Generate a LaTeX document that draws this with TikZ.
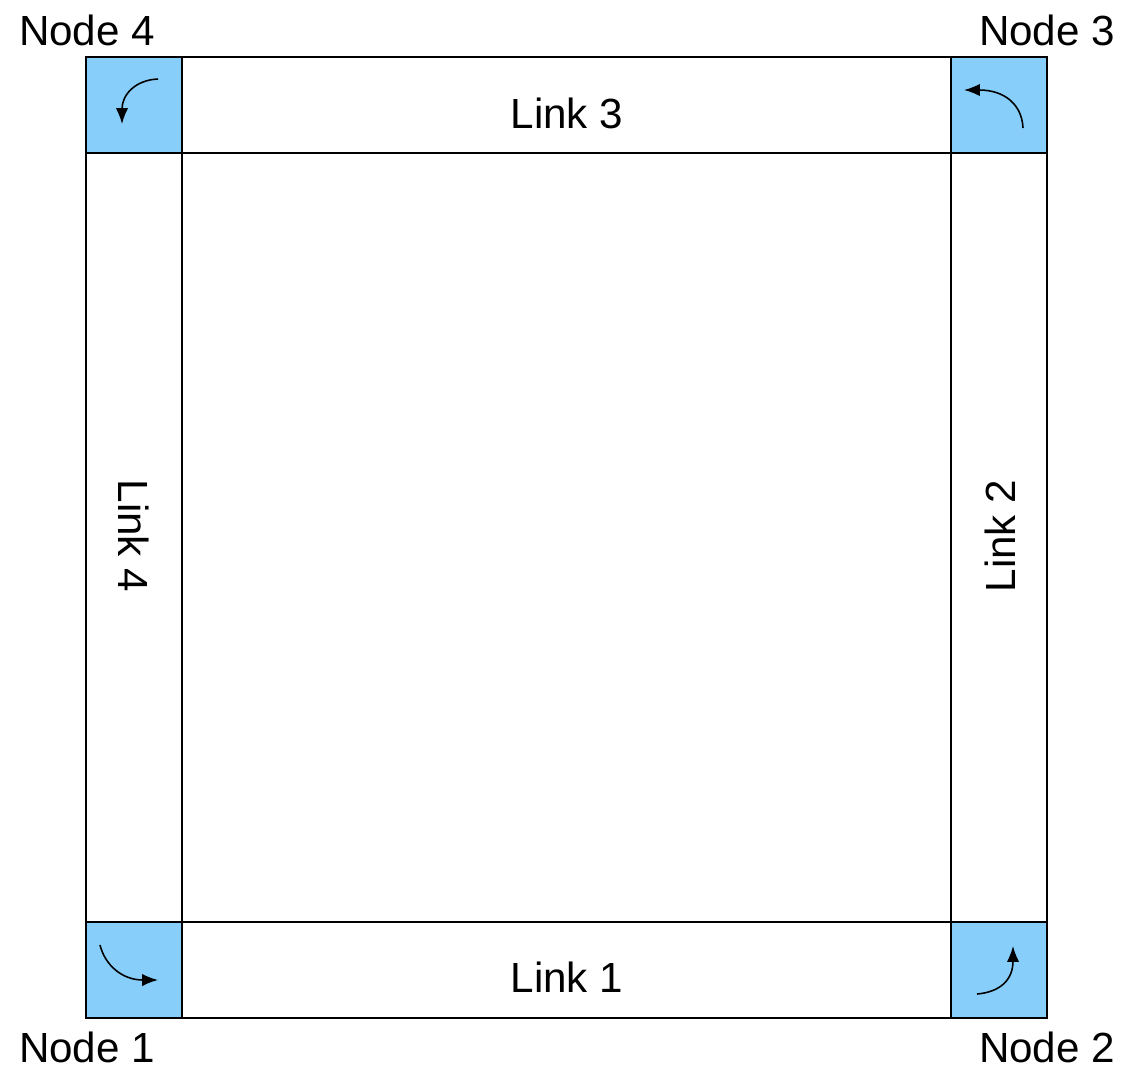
\documentclass[tikz,border=0pt]{standalone}
\usepackage{fontspec}
\setmainfont{Liberation Sans}
\usetikzlibrary{arrows.meta}
\definecolor{cellblue}{RGB}{136,206,250}
\begin{document}
\begin{tikzpicture}[x=0.02cm,y=-0.02cm,
  frame/.style={draw=black,line width=1.1pt},
  corner/.style={frame,fill=cellblue},
  lbl/.style={font=\fontsize{24pt}{28pt}\selectfont,inner sep=0pt},
  turn/.style={line width=0.9pt,-{Latex[length=9pt,width=7pt]}}]
\useasboundingbox (0,0) rectangle (1126,1069);
% links
\draw[frame] (182,57) rectangle (951,153);
\draw[frame] (182,922) rectangle (951,1018);
\draw[frame] (86,153) rectangle (182,922);
\draw[frame] (951,153) rectangle (1047,922);
% corner nodes
\draw[corner] (86,57) rectangle (182,153);
\draw[corner] (951,57) rectangle (1047,153);
\draw[corner] (86,922) rectangle (182,1018);
\draw[corner] (951,922) rectangle (1047,1018);
% rotation arrows
\draw[turn] (158,79) .. controls (135,80) and (122,95) .. (122,124);
\draw[turn] (1023,128) .. controls (1022,105) and (1005,90) .. (964,90);
\draw[turn] (100,945) .. controls (105,965) and (122,980) .. (158,980);
\draw[turn] (977,994) .. controls (1000,992) and (1013,980) .. (1013,946);
% labels
\node[lbl] (n4) at (87,30) {Node 4};
\node[lbl] (n3) at (1047,30) {Node 3};
\node[lbl] (n1) at (87,1047) {Node 1};
\node[lbl] (n2) at (1047,1047) {Node 2};
\node[lbl] (l3) at (567,113) {Link 3};
\node[lbl] (l1) at (567,977) {Link 1};
\node[lbl,rotate=-90] (l4) at (134,536) {Link 4};
\node[lbl,rotate=90] (l2) at (1000,536) {Link 2};
\end{tikzpicture}
\end{document}
